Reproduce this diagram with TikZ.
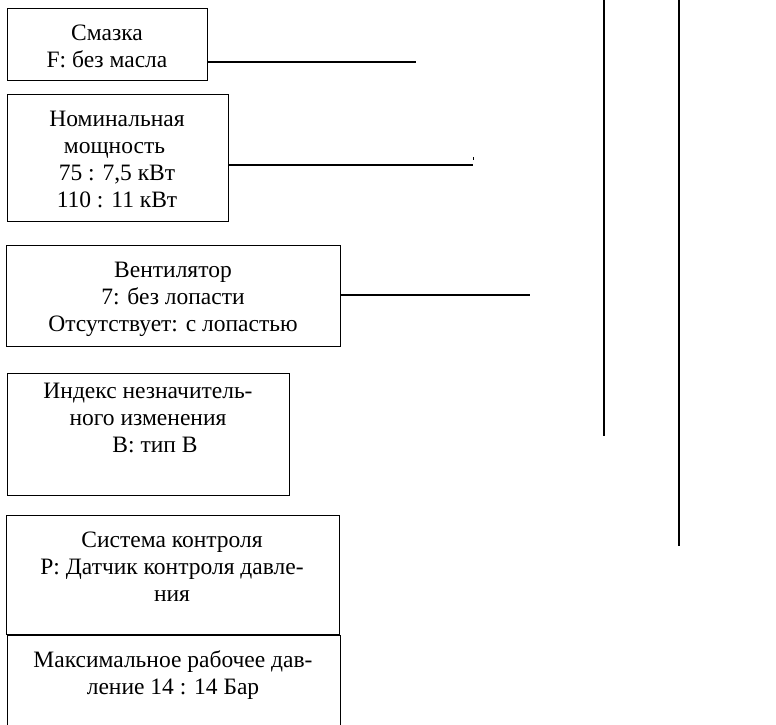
\documentclass[tikz,border=0pt]{standalone}
\usepackage{fontspec}
\setmainfont{Liberation Serif}
\begin{document}
\begin{tikzpicture}[x=1pt,y=-1pt,
  box/.style={draw,line width=1.4pt,rectangle,inner sep=0pt,anchor=north west},
  txt/.style={anchor=base,inner sep=0pt,font=\fontsize{23.5}{27}\selectfont},
  wire/.style={line width=1.4pt}]
\clip (0,0) rectangle (776,724);
\fill[white] (0,0) rectangle (776,724);
% boxes
\node[box,minimum width=200pt,minimum height=72pt] (b1) at (7,8) {};
\node[box,minimum width=221pt,minimum height=127pt] (b2) at (7,94) {};
\node[box,minimum width=334pt,minimum height=101pt] (b3) at (6,245) {};
\node[box,minimum width=282pt,minimum height=122pt] (b4) at (7,373) {};
\node[box,minimum width=333pt,minimum height=119pt] (b5) at (6,515) {};
\node[box,minimum width=333pt,minimum height=140pt] (b6) at (7,635) {};
% texts
\newcommand{\lines}[1]{\begin{tabular}[t]{@{}c@{}}#1\end{tabular}}
\renewcommand{\arraystretch}{1}
\node[txt] (t1) at (107,40) {\lines{Смазка\\F: без масла}};
\node[txt] (t2) at (117,126) {\lines{Номинальная\\мощность\hspace*{5pt}\\75 : 7,5 кВт\\110 : 11 кВт}};
\node[txt] (t3) at (173,277) {\lines{Вентилятор\\7: без лопасти\\Отсутствует: с лопастью}};
\node[txt] (t4) at (148,398) {\lines{Индекс незначитель-\\ного изменения\\\hspace*{14pt}B: тип B}};
\node[txt] (t5) at (172,547) {\lines{Система контроля\\P: Датчик контроля давле-\\ния}};
\node[txt] (t6) at (173,667) {\lines{Максимальное рабочее дав-\\ление 14 : 14 Бар}};
% connector ends
\coordinate (e1) at (416,62);
\coordinate (e2) at (473,165);
\coordinate (e3) at (530,295);
\draw[wire] (b1.east |- e1) -- (e1);
\draw[wire] (b2.east |- e2) -- (e2);
\draw[wire] (b3.east |- e3) -- (e3);
\draw[line width=0.8pt] (473,157) -- (473,159.5);
% vertical lines
\coordinate (v1t) at (604,-5);
\coordinate (v1b) at (604,436);
\coordinate (v2t) at (679,-5);
\coordinate (v2b) at (679,546);
\draw[wire] (v1t) -- (v1b);
\draw[wire] (v2t) -- (v2b);
\end{tikzpicture}
\end{document}
